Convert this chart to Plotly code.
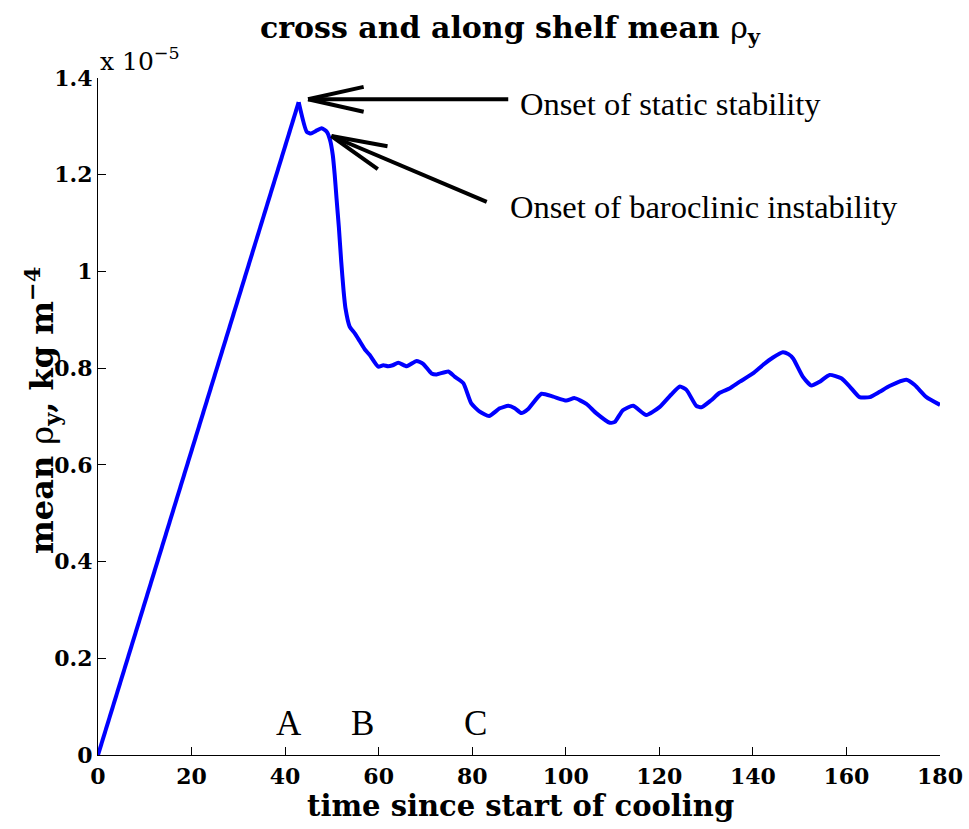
import math
import plotly.graph_objects as go

# Time since start of cooling (days) and cross/along-shelf mean rho_y (units of 1e-5 kg m^-4)
time_days = [0, 42.9, 44.6, 45.5, 46.5, 47.8, 48.9, 49.6, 50.2, 50.6, 51.0, 51.5, 52.0,
             52.5, 52.9, 53.8, 54.9, 56.0, 57.1, 58.1, 59.9, 61.0, 62.0, 63.0, 64.2,
             66.0, 68.1, 69.5, 71.3, 72.4, 74.9, 76.3, 78.1, 79.8, 81.6, 83.6, 85.9,
             87.7, 89.1, 90.5, 91.9, 94.8, 97.3, 100.1, 101.9, 104.4, 106.5, 109.4,
             110.5, 112.2, 114.4, 117.2, 120.1, 122.5, 124.4, 125.8, 127.9, 129.0,
             131.0, 132.9, 135.0, 137.2, 140.0, 142.2, 144.3, 146.4, 147.6, 148.6,
             150.7, 152.5, 154.3, 156.4, 158.9, 160.7, 162.8, 165.0, 167.1, 169.2,
             172.8, 174.6, 177.1, 180.0]
rho_y_e5 = [0.0, 1.350, 1.289, 1.285, 1.290, 1.296, 1.289, 1.272, 1.240, 1.200, 1.150,
            1.090, 1.020, 0.960, 0.924, 0.886, 0.872, 0.855, 0.838, 0.827, 0.803, 0.806,
            0.804, 0.806, 0.811, 0.804, 0.815, 0.809, 0.789, 0.787, 0.793, 0.782, 0.769,
            0.727, 0.710, 0.701, 0.717, 0.722, 0.717, 0.707, 0.715, 0.747, 0.741, 0.733,
            0.738, 0.726, 0.707, 0.687, 0.689, 0.713, 0.722, 0.703, 0.720, 0.745, 0.762,
            0.755, 0.722, 0.719, 0.733, 0.749, 0.758, 0.772, 0.789, 0.807, 0.822, 0.833,
            0.829, 0.820, 0.782, 0.764, 0.772, 0.786, 0.779, 0.762, 0.740, 0.740, 0.751,
            0.763, 0.776, 0.765, 0.740, 0.724]

x_ticks = [0, 20, 40, 60, 80, 100, 120, 140, 160, 180]
y_ticks = [0, 0.2, 0.4, 0.6, 0.8, 1.0, 1.2, 1.4]
y_tick_text = ["0", "0.2", "0.4", "0.6", "0.8", "1", "1.2", "1.4"]

# Event labels along the time axis
event_labels = ["A", "B", "C"]
event_times = [40.8, 56.6, 80.8]

# Arrow callouts: head (t, v), tail (t, v), label anchor (t, v)
callout_text = ["Onset of static stability", "Onset of baroclinic instability"]
callout_head = [(44.9, 1.356), (49.9, 1.280)]
callout_tail = [(87.7, 1.356), (83.1, 1.144)]
callout_label = [(89.8, 1.346), (87.7, 1.133)]

W, H = 969, 829
M = dict(l=98, r=29, t=78, b=74, autoexpand=False)
X_RANGE = [0, 180]
Y_RANGE = [0, 1.4]
plot_w = W - M["l"] - M["r"]
plot_h = H - M["t"] - M["b"]
sx = plot_w / (X_RANGE[1] - X_RANGE[0])   # px per day
sy = plot_h / (Y_RANGE[1] - Y_RANGE[0])   # px per unit

SERIF_BOLD = dict(family="DejaVu Serif", color="black", weight="bold")
LINE = dict(color="#0000ff", width=4)

# linear warming ramp up to the peak, then the smoothed adjustment phase
peak = rho_y_e5.index(max(rho_y_e5))
fig = go.Figure()
fig.add_trace(go.Scatter(
    x=time_days[:peak + 1], y=rho_y_e5[:peak + 1], mode="lines", line=LINE,
    cliponaxis=False, hoverinfo="skip", showlegend=False,
))
fig.add_trace(go.Scatter(
    x=time_days[peak:], y=rho_y_e5[peak:], mode="lines",
    line=dict(LINE, shape="spline", smoothing=0.5),
    cliponaxis=False, hoverinfo="skip", showlegend=False,
))

shapes = []
BARB_LEN = 57
BARB_ANG = math.radians(12.6)
for (hx, hy), (tx, ty) in zip(callout_head, callout_tail):
    shapes.append(dict(type="line", xref="x", yref="y", x0=hx, y0=hy, x1=tx, y1=ty,
                       line=dict(color="black", width=4)))
    # direction from head to tail in screen pixels (y up)
    dx, dy = (tx - hx) * sx, (ty - hy) * sy
    ang = math.atan2(dy, dx)
    for s in (+1, -1):
        a = ang + s * BARB_ANG
        bx = hx + BARB_LEN * math.cos(a) / sx
        by = hy + BARB_LEN * math.sin(a) / sy
        shapes.append(dict(type="line", xref="x", yref="y", x0=hx, y0=hy, x1=bx, y1=by,
                           line=dict(color="black", width=4)))

annotations = []
for txt, (lx, ly) in zip(callout_text, callout_label):
    annotations.append(dict(x=lx, y=ly, xref="x", yref="y", text=txt, showarrow=False,
                            xanchor="left", yanchor="middle",
                            font=dict(family="Liberation Serif", size=32.5, color="black")))
for lab, t in zip(event_labels, event_times):
    annotations.append(dict(x=t, y=0.066, xref="x", yref="y", text=lab, showarrow=False,
                            xanchor="center", yanchor="middle",
                            font=dict(family="Liberation Serif", size=35, color="black")))

# exponent marker above the y axis
annotations.append(dict(x=0, y=1.0, xref="paper", yref="paper", text="x 10<sup>−5</sup>",
                        showarrow=False, xanchor="left", yanchor="bottom", yshift=0,
                        font=dict(family="DejaVu Serif", size=25, color="black")))
# axis titles
annotations.append(dict(x=(42 - M["l"]) / plot_w, y=(H - M["b"] - 411) / plot_h,
                        xref="paper", yref="paper", textangle=-90,
                        text="mean <span style='font-weight:normal'>ρ</span><sub>y</sub>, kg m<sup>−4</sup>",
                        showarrow=False, xanchor="center", yanchor="middle",
                        font=dict(size=32, **SERIF_BOLD)))
annotations.append(dict(x=(520 - M["l"]) / plot_w, y=-(806 - (H - M["b"])) / plot_h,
                        xref="paper", yref="paper",
                        text="time since start of cooling", showarrow=False,
                        xanchor="center", yanchor="middle",
                        font=dict(size=29, **SERIF_BOLD)))

fig.update_layout(
    width=W, height=H, margin=M,
    paper_bgcolor="white", plot_bgcolor="white",
    title=dict(text="cross and along shelf mean <span style='font-weight:normal'>ρ</span><sub>y</sub>",
               x=510 / W, xanchor="center", xref="container", y=1 - 27 / H,
               yref="container", yanchor="middle", automargin=False,
               font=dict(size=30, **SERIF_BOLD)),
    shapes=shapes, annotations=annotations,
    xaxis=dict(range=X_RANGE, tickvals=x_ticks, ticks="inside", ticklen=8,
               tickcolor="black", showline=True, linecolor="black", linewidth=1,
               showgrid=False, zeroline=False, tickfont=dict(size=22, **SERIF_BOLD),
               ticklabelstandoff=2, automargin=False),
    yaxis=dict(range=Y_RANGE, tickvals=y_ticks, ticktext=y_tick_text, ticks="inside",
               ticklen=8, tickcolor="black", showline=True, linecolor="black",
               linewidth=1, showgrid=False, zeroline=False,
               tickfont=dict(size=22, **SERIF_BOLD), ticklabelstandoff=0,
               automargin=False),
)

fig.write_html("out.html")
